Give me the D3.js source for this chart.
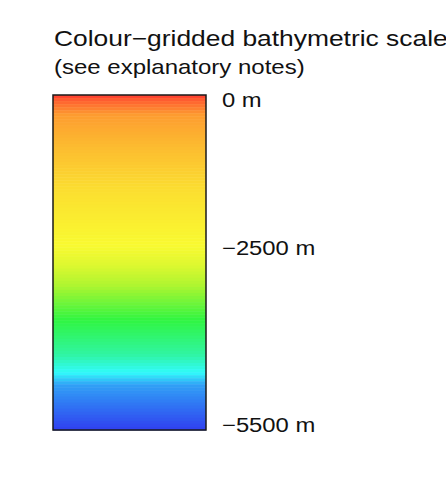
<!DOCTYPE html>
<html>
<head>
<meta charset="utf-8">
<script src="https://cdn.jsdelivr.net/npm/d3@7"></script>
<style>
  html, body { margin: 0; padding: 0; background: #fff; }
  svg text { font-family: "Liberation Sans", Arial, Helvetica, sans-serif; fill: #111; }
</style>
</head>
<body>
<div id="chart"></div>
<script>
// colour ramp stops (depth in m -> colour)
const stopDepths = [0, -80, -330, -900, -1560, -2460, -2790, -3120, -3690, -4260, -4560, -4760, -5500];
const stopColours = ["#ff3a30", "#fe5e30", "#fd9c30", "#fcbe30", "#fbde30", "#f9fa30", "#def830",
                     "#b0f530", "#30f540", "#30f5a2", "#30fbfb", "#30a0f6", "#3040f0"];
const tickDepths = [0, -2500, -5500];
const tickLabels = ["0 m", "\u22122500 m", "\u22125500 m"];
const title = "Colour\u2212gridded bathymetric scale";
const subtitle = "(see explanatory notes)";

const width = 446, height = 494;
const bar = { x: 53, y: 95, w: 153, h: 335 };
const stretch = 1.2; // text in the picture is a bit wide

const svg = d3.select("#chart").append("svg")
  .attr("width", width)
  .attr("height", height);

const y = d3.scaleLinear()
  .domain([0, -5500])
  .range([bar.y, bar.y + bar.h]);

const colour = d3.scaleLinear()
  .domain(stopDepths)
  .range(stopColours)
  .interpolate(d3.interpolateRgb);

// gridded colour cells, 50 m each
const step = 50;
const cells = d3.range(0, -5500, -step);
svg.append("g")
  .selectAll("rect")
  .data(cells)
  .enter()
  .append("rect")
  .attr("x", bar.x)
  .attr("y", d => y(d))
  .attr("width", bar.w)
  .attr("height", d => y(d - step) - y(d) + 0.5)
  .attr("fill", d => colour(d - step / 2));

svg.append("rect")
  .attr("x", bar.x)
  .attr("y", bar.y)
  .attr("width", bar.w)
  .attr("height", bar.h)
  .attr("fill", "none")
  .attr("stroke", "#1a1a1a")
  .attr("stroke-width", 1.5);

// labels
const labelY = d3.scaleLinear()
  .domain([0, -5500])
  .range([bar.y + 5, bar.y + bar.h - 5]);

svg.append("g")
  .selectAll("text")
  .data(tickDepths)
  .enter()
  .append("text")
  .attr("transform", d => `translate(222,${labelY(d)}) scale(1.19,1)`)
  .attr("dy", "0.35em")
  .style("font-size", "20px")
  .text((d, i) => tickLabels[i]);

svg.append("text")
  .attr("transform", `translate(54,46) scale(${stretch},1)`)
  .style("font-size", "22px")
  .text(title);

svg.append("text")
  .attr("transform", `translate(54,74) scale(${stretch},1)`)
  .style("font-size", "20px")
  .text(subtitle);
</script>
</body>
</html>
